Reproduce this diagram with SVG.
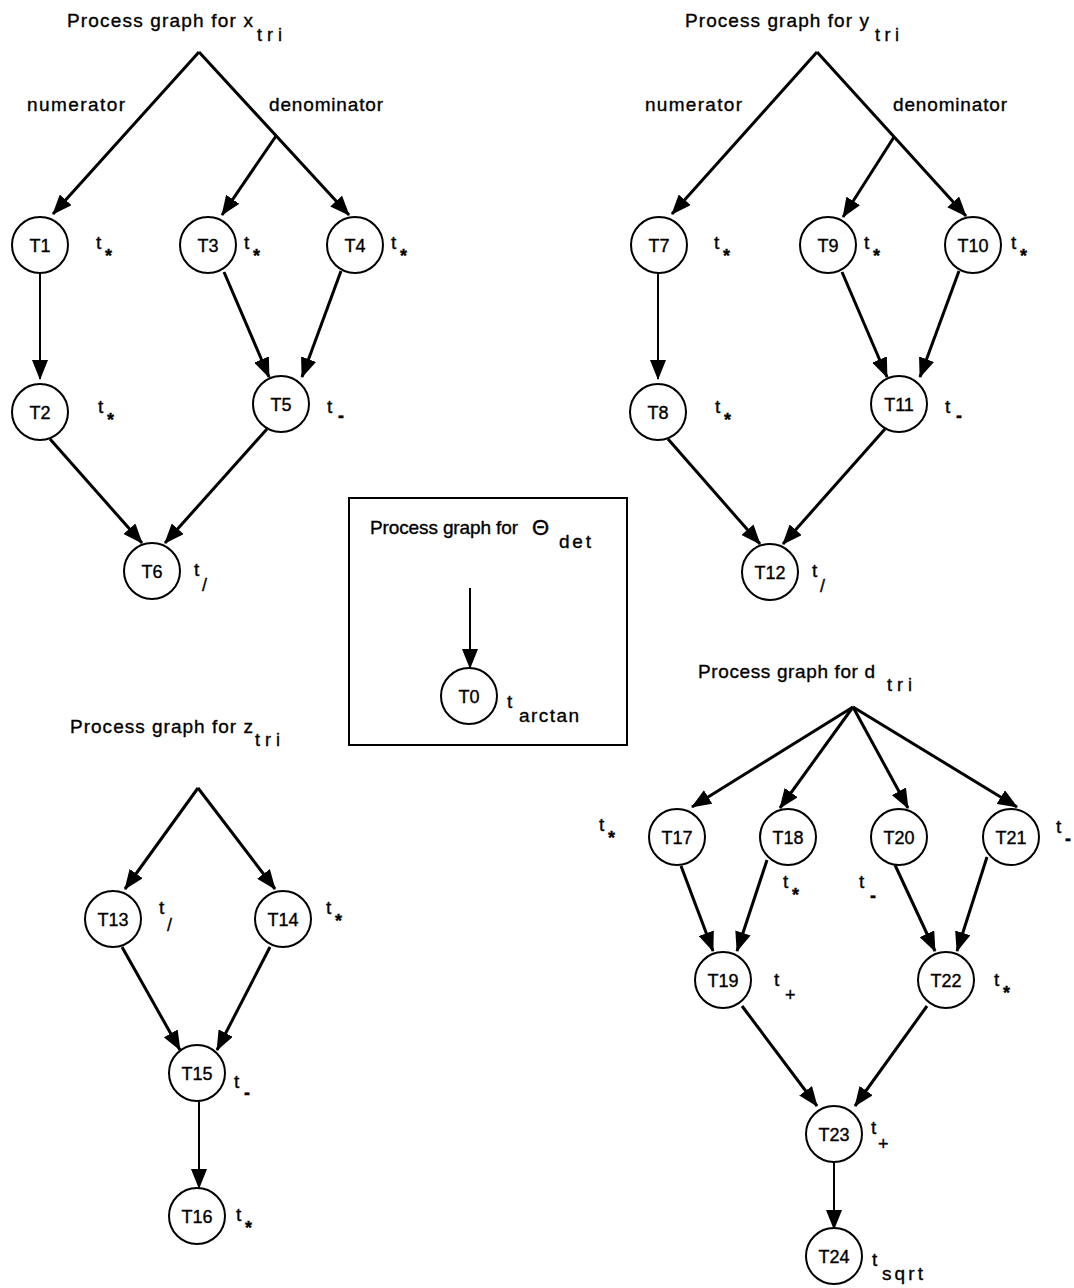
<svg xmlns="http://www.w3.org/2000/svg" width="1074" height="1288" viewBox="0 0 1074 1288">
  <style>
    text { font-family: "Liberation Sans", Arial, Helvetica, sans-serif; fill: #000; stroke: #000; stroke-width: 0.35; }
    .title { font-size: 19px; }
    .sub { font-size: 18px; }
    .branch { font-size: 19px; }
    .node circle { fill: #fff; stroke: #000; stroke-width: 2; }
    .node text { font-size: 18px; text-anchor: middle; }
    .cost { font-size: 19px; }
    .op { font-size: 18px; font-weight: bold; }
    .opl { font-size: 18px; }
    .edges line { stroke: #000; stroke-width: 3; marker-end: url(#ah); }
    .edges line.thin { stroke-width: 2; }
    .frame { fill: none; stroke: #000; stroke-width: 2; }
  </style>
  <defs>
    <marker id="ah" markerUnits="userSpaceOnUse" viewBox="0 0 20 16" markerWidth="20" markerHeight="16" refX="19" refY="8" orient="auto">
      <path d="M0,0 L20,8 L0,16 z" fill="#000"/>
    </marker>
  </defs>
  <rect width="1074" height="1288" fill="#fff"/>

  <!-- headings -->
  <g id="headings">
    <text class="title" x="67" y="27" textLength="186" lengthAdjust="spacing">Process graph for x</text>
    <text class="sub" x="257" y="41" textLength="25" lengthAdjust="spacing">tri</text>
    <text class="branch" x="27" y="111" textLength="98" lengthAdjust="spacing">numerator</text>
    <text class="branch" x="269" y="111" textLength="114" lengthAdjust="spacing">denominator</text>

    <text class="title" x="685" y="27" textLength="184" lengthAdjust="spacing">Process graph for y</text>
    <text class="sub" x="875" y="41" textLength="24" lengthAdjust="spacing">tri</text>
    <text class="branch" x="645" y="111" textLength="97" lengthAdjust="spacing">numerator</text>
    <text class="branch" x="893" y="111" textLength="114" lengthAdjust="spacing">denominator</text>

    <text class="title" x="370" y="534" textLength="148" lengthAdjust="spacing">Process graph for</text>
    <text class="title" x="532" y="535" style="font-size:22px">Θ</text>
    <text class="sub" x="559" y="548" textLength="32" lengthAdjust="spacing" style="font-size:19px">det</text>

    <text class="title" x="70" y="733" textLength="183" lengthAdjust="spacing">Process graph for z</text>
    <text class="sub" x="255" y="746" textLength="25" lengthAdjust="spacing">tri</text>

    <text class="title" x="698" y="678" textLength="177" lengthAdjust="spacing">Process graph for d</text>
    <text class="sub" x="887" y="691" textLength="25" lengthAdjust="spacing">tri</text>
  </g>

  <!-- frame around the Θdet graph -->
  <rect class="frame" x="349" y="498" width="278" height="247"/>

  <!-- connectors -->
  <g id="connectors" class="edges">
    <!-- x_tri -->
    <line x1="199" y1="52" x2="53" y2="214"/>
    <line x1="199" y1="52" x2="349" y2="215"/>
    <line x1="276" y1="136" x2="222" y2="215"/>
    <line class="thin" x1="40" y1="273" x2="40" y2="379"/>
    <line x1="224" y1="272" x2="269" y2="377"/>
    <line x1="341" y1="271" x2="302" y2="377"/>
    <line x1="50" y1="439" x2="142" y2="543"/>
    <line x1="267" y1="429" x2="165" y2="543"/>
    <!-- y_tri -->
    <line x1="817" y1="52" x2="672" y2="214"/>
    <line x1="817" y1="52" x2="966" y2="216"/>
    <line x1="894" y1="137" x2="843" y2="217"/>
    <line class="thin" x1="658" y1="273" x2="658" y2="379"/>
    <line x1="842" y1="272" x2="887" y2="377"/>
    <line x1="959" y1="271" x2="920" y2="377"/>
    <line x1="668" y1="439" x2="760" y2="544"/>
    <line x1="885" y1="429" x2="783" y2="544"/>
    <!-- Θdet -->
    <line class="thin" x1="470" y1="588" x2="470" y2="668"/>
    <!-- z_tri -->
    <line x1="198" y1="788" x2="125" y2="889"/>
    <line x1="198" y1="788" x2="275" y2="889"/>
    <line x1="122" y1="947" x2="180" y2="1050"/>
    <line x1="270" y1="947" x2="217" y2="1050"/>
    <line class="thin" x1="199" y1="1101" x2="199" y2="1188"/>
    <!-- d_tri -->
    <line x1="853" y1="707" x2="692" y2="807"/>
    <line x1="853" y1="707" x2="780" y2="808"/>
    <line x1="853" y1="707" x2="908" y2="808"/>
    <line x1="853" y1="707" x2="1017" y2="807"/>
    <line x1="681" y1="866" x2="713" y2="951"/>
    <line x1="767" y1="860" x2="737" y2="951"/>
    <line x1="895" y1="865" x2="935" y2="951"/>
    <line x1="987" y1="857" x2="957" y2="951"/>
    <line x1="742" y1="1006" x2="817" y2="1106"/>
    <line x1="927" y1="1006" x2="855" y2="1106"/>
    <line class="thin" x1="834" y1="1162" x2="834" y2="1229"/>
  </g>

  <!-- process nodes -->
  <g id="T1" class="node"><circle cx="40" cy="245" r="28"/><text x="40" y="252">T1</text></g>
  <g id="T3" class="node"><circle cx="208" cy="245" r="28"/><text x="208" y="252">T3</text></g>
  <g id="T4" class="node"><circle cx="355" cy="245" r="28"/><text x="355" y="252">T4</text></g>
  <g id="T2" class="node"><circle cx="40" cy="412" r="28"/><text x="40" y="419">T2</text></g>
  <g id="T5" class="node"><circle cx="281" cy="404" r="28"/><text x="281" y="411">T5</text></g>
  <g id="T6" class="node"><circle cx="152" cy="571" r="28"/><text x="152" y="578">T6</text></g>

  <g id="T7" class="node"><circle cx="659" cy="245" r="28"/><text x="659" y="252">T7</text></g>
  <g id="T9" class="node"><circle cx="828" cy="245" r="28"/><text x="828" y="252">T9</text></g>
  <g id="T10" class="node"><circle cx="973" cy="245" r="28"/><text x="973" y="252">T10</text></g>
  <g id="T8" class="node"><circle cx="658" cy="412" r="28"/><text x="658" y="419">T8</text></g>
  <g id="T11" class="node"><circle cx="899" cy="404" r="28"/><text x="899" y="411">T11</text></g>
  <g id="T12" class="node"><circle cx="770" cy="572" r="28"/><text x="770" y="579">T12</text></g>

  <g id="T0" class="node"><circle cx="469" cy="696" r="28"/><text x="469" y="703">T0</text></g>

  <g id="T13" class="node"><circle cx="113" cy="919" r="28"/><text x="113" y="926">T13</text></g>
  <g id="T14" class="node"><circle cx="283" cy="919" r="28"/><text x="283" y="926">T14</text></g>
  <g id="T15" class="node"><circle cx="197" cy="1073" r="28"/><text x="197" y="1080">T15</text></g>
  <g id="T16" class="node"><circle cx="197" cy="1216" r="28"/><text x="197" y="1223">T16</text></g>

  <g id="T17" class="node"><circle cx="677" cy="837" r="28"/><text x="677" y="844">T17</text></g>
  <g id="T18" class="node"><circle cx="788" cy="837" r="28"/><text x="788" y="844">T18</text></g>
  <g id="T20" class="node"><circle cx="899" cy="837" r="28"/><text x="899" y="844">T20</text></g>
  <g id="T21" class="node"><circle cx="1011" cy="837" r="28"/><text x="1011" y="844">T21</text></g>
  <g id="T19" class="node"><circle cx="723" cy="980" r="28"/><text x="723" y="987">T19</text></g>
  <g id="T22" class="node"><circle cx="946" cy="980" r="28"/><text x="946" y="987">T22</text></g>
  <g id="T23" class="node"><circle cx="834" cy="1134" r="28"/><text x="834" y="1141">T23</text></g>
  <g id="T24" class="node"><circle cx="834" cy="1256" r="28"/><text x="834" y="1263">T24</text></g>

  <!-- execution-time labels -->
  <g id="costs">
    <text class="cost" x="96" y="249">t</text><text class="op" x="105" y="262">*</text>
    <text class="cost" x="244" y="249">t</text><text class="op" x="253" y="262">*</text>
    <text class="cost" x="391" y="249">t</text><text class="op" x="400" y="262">*</text>
    <text class="cost" x="98" y="413">t</text><text class="op" x="107" y="426">*</text>
    <text class="cost" x="327" y="413">t</text><text class="op" x="338" y="422">-</text>
    <text class="cost" x="194" y="576">t</text><text class="opl" x="202" y="591">/</text>

    <text class="cost" x="714" y="249">t</text><text class="op" x="723" y="262">*</text>
    <text class="cost" x="864" y="249">t</text><text class="op" x="873" y="262">*</text>
    <text class="cost" x="1011" y="249">t</text><text class="op" x="1020" y="262">*</text>
    <text class="cost" x="715" y="413">t</text><text class="op" x="724" y="426">*</text>
    <text class="cost" x="945" y="413">t</text><text class="op" x="956" y="422">-</text>
    <text class="cost" x="812" y="577">t</text><text class="opl" x="820" y="592">/</text>

    <text class="cost" x="507" y="708">t</text>
    <text class="sub" x="519" y="722" textLength="60" lengthAdjust="spacing" style="font-size:19px">arctan</text>

    <text class="cost" x="159" y="914">t</text><text class="opl" x="167" y="931">/</text>
    <text class="cost" x="326" y="914">t</text><text class="op" x="335" y="927">*</text>
    <text class="cost" x="234" y="1088">t</text><text class="op" x="244" y="1099">-</text>
    <text class="cost" x="236" y="1221">t</text><text class="op" x="245" y="1234">*</text>

    <text class="cost" x="599" y="831">t</text><text class="op" x="608" y="844">*</text>
    <text class="cost" x="783" y="888">t</text><text class="op" x="792" y="901">*</text>
    <text class="cost" x="859" y="888">t</text><text class="op" x="870" y="902">-</text>
    <text class="cost" x="1056" y="833">t</text><text class="op" x="1065" y="845">-</text>
    <text class="cost" x="774" y="986">t</text><text class="opl" x="785" y="1001">+</text>
    <text class="cost" x="994" y="986">t</text><text class="op" x="1003" y="999">*</text>
    <text class="cost" x="871" y="1134">t</text><text class="opl" x="878" y="1150">+</text>
    <text class="cost" x="872" y="1266">t</text>
    <text class="sub" x="882" y="1280" textLength="41" lengthAdjust="spacing" style="font-size:19px">sqrt</text>
  </g>
</svg>
